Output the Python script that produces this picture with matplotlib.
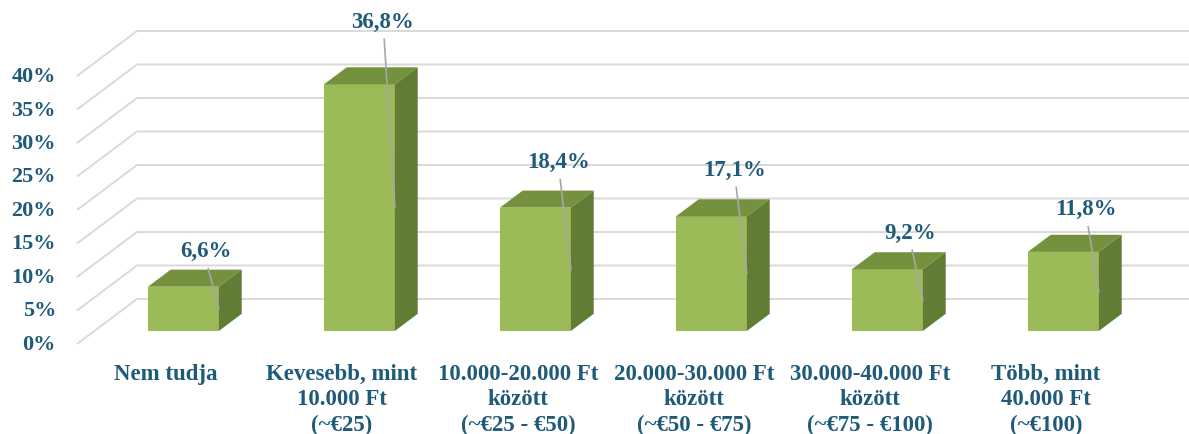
import matplotlib
matplotlib.use("Agg")
import matplotlib.pyplot as plt
from matplotlib.patches import Polygon

# ---- data ----
categories = [
    "Nem tudja",
    "Kevesebb, mint\n10.000 Ft\n(~€25)",
    "10.000-20.000 Ft\nközött\n(~€25 - €50)",
    "20.000-30.000 Ft\nközött\n(~€50 - €75)",
    "30.000-40.000 Ft\nközött\n(~€75 - €100)",
    "Több, mint\n40.000 Ft\n(~€100)",
]
values = [6.6, 36.8, 18.4, 17.1, 9.2, 11.8]
value_labels = ["6,6%", "36,8%", "18,4%", "17,1%", "9,2%", "11,8%"]
yticks = [0, 5, 10, 15, 20, 25, 30, 35, 40]
ytick_labels = ["0%", "5%", "10%", "15%", "20%", "25%", "30%", "35%", "40%"]

# ---- style / layout ----
W_PX, H_PX, DPI = 1189, 435, 100
PX_X = 176.0      # pixels per category unit
PX_Y = 6.7        # pixels per percent
X0_PX = 166.0     # pixel x of category 0 on the front plane
Y0_PX = 345.0     # pixel y of 0% on the front plane
DX = 60.0 / PX_X  # full depth offset (x, data units)
DY = 45.0 / PX_Y  # full depth offset (y, data units)
D_FRONT, D_BACK = 0.29, 0.67   # bar depth fractions
BAR_W = 71.0 / PX_X
WALL_LEFT = (77.0 - X0_PX) / PX_X

TXT = "#1F5A78"
GRID = "#D9D9D9"
FRONT = "#9BBB59"
TOP = "#74923E"
SIDE = "#617D35"
LEADER = "#A6A6A6"
FONT = "Liberation Serif"
label_lift_px = [19, 46, 29, 30, 20, 26]

fig = plt.figure(figsize=(W_PX / DPI, H_PX / DPI), dpi=DPI)
ax = fig.add_axes([0, 0, 1, 1])
ax.set_xlim(-X0_PX / PX_X, (W_PX - X0_PX) / PX_X)
ax.set_ylim(-(H_PX - Y0_PX) / PX_Y, Y0_PX / PX_Y)
ax.axis("off")

# walls / gridlines
xmax = ax.get_xlim()[1]
for v in yticks:
    ax.plot([WALL_LEFT, WALL_LEFT + DX, xmax], [v, v + DY, v + DY],
            color=GRID, lw=1.4, solid_capstyle="butt", zorder=1)

# tick labels
for v, t in zip(yticks, ytick_labels):
    ax.annotate(t, xy=(WALL_LEFT, v), xytext=(-21 * 0.72, 0), textcoords="offset points",
                ha="right", va="center", fontsize=16, fontweight="bold",
                color=TXT, family=FONT)

# bars
xs = list(range(len(values)))
fx = [x + D_FRONT * DX for x in xs]
base = D_FRONT * DY
ax.bar(fx, values, width=BAR_W, bottom=base, color=FRONT, zorder=3, linewidth=0)
ddx = (D_BACK - D_FRONT) * DX
ddy = (D_BACK - D_FRONT) * DY
for x, v in zip(fx, values):
    l, r = x - BAR_W / 2, x + BAR_W / 2
    top = base + v
    ax.add_patch(Polygon([(l, top), (r, top), (r + ddx, top + ddy), (l + ddx, top + ddy)],
                         closed=True, facecolor=TOP, edgecolor="none", zorder=3))
    ax.add_patch(Polygon([(r, base), (r, top), (r + ddx, top + ddy), (r + ddx, base + ddy)],
                         closed=True, facecolor=SIDE, edgecolor="none", zorder=3))

# data labels with leader lines
for x, v, lab, lift in zip(fx, values, value_labels, label_lift_px):
    lx = x + ddx
    ly = base + v + ddy + lift / PX_Y
    ax.text(lx, ly, lab, ha="center", va="center", fontsize=16.5, fontweight="bold",
            color=TXT, family=FONT, zorder=5)
    r = x + BAR_W / 2
    ax.plot([lx + 2 / PX_X, r], [ly - 18 / PX_Y, base + v / 2],
            color=LEADER, lw=1.2, zorder=4)

# category labels
for x, c in zip(xs, categories):
    ax.text(x, -19 / PX_Y, c, ha="center", va="top", fontsize=16.5, fontweight="bold",
            color=TXT, family=FONT, linespacing=1.27)

fig.savefig("out.png", dpi=DPI)
